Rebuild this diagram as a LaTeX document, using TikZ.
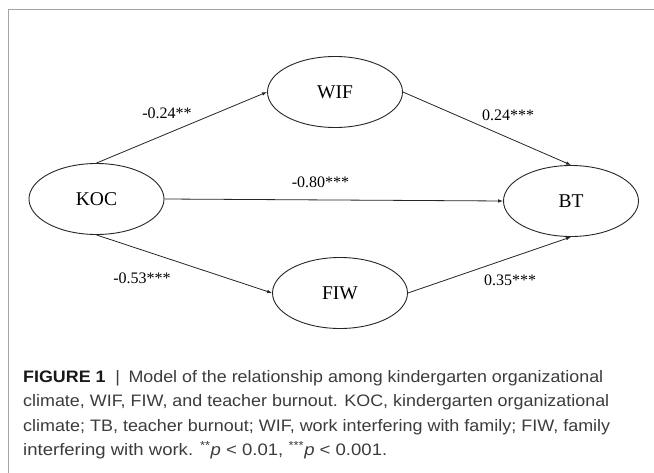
\documentclass[tikz,border=0pt]{standalone}
\usepackage{fontspec}
\usepackage{graphicx}
\setmainfont{Liberation Serif}
\newfontfamily\capfont{Liberation Sans}
\usetikzlibrary{arrows.meta,shapes.geometric}
\definecolor{capgray}{RGB}{60,60,60}
\definecolor{framegray}{RGB}{165,165,165}
\tikzset{
  latent/.style={draw=black!85, line width=0.9bp, ellipse, inner sep=0pt,
    minimum width=135bp, minimum height=71bp,
    font=\fontsize{19.5bp}{22bp}\selectfont},
  arrowpath/.style={draw=black!85, line width=0.8bp, -{Latex[length=5bp,width=3.6bp]}},
  coef/.style={inner sep=0pt, font=\fontsize{16bp}{18bp}\selectfont},
  capline/.style={anchor=base west, inner sep=0pt, text=capgray,
    font=\capfont\fontsize{16.6bp}{20bp}\selectfont},
}
\begin{document}
\begin{tikzpicture}[x=1bp,y=-1bp]
\useasboundingbox (0,0) rectangle (654,473);
\fill[white] (0,0) rectangle (654,473);
% frame (top and left edges)
\draw[framegray, line width=1.2bp] (654,9.5) -- (8.5,9.5) -- (8.5,473);
% constructs
\node[latent] (koc) at (96.5,199) {KOC};
\node[latent] (wif) at (335,92) {WIF};
\node[latent] (fiw) at (340,293) {FIW};
\node[latent] (bt) at (571,201) {BT};
% paths
\draw[arrowpath] (koc.north) -- (wif.west);
\draw[arrowpath] (wif.east) -- (bt.north);
\draw[arrowpath] (koc.east) -- (bt.west);
\draw[arrowpath] (koc.south) -- (fiw.west);
\draw[arrowpath] (fiw.east) -- (bt.south);
% coefficients
\node[coef] (c1) at (167,113) {-0.24**};
\node[coef] (c2) at (508,115) {0.24***};
\node[coef] (c3) at (320.5,182) {-0.80***};
\node[coef] (c4) at (142,278) {-0.53***};
\node[coef] (c5) at (510,280) {0.35***};
% caption
\node[capline] (cap1) at (23,382) {\resizebox{580bp}{\height}{{\bfseries\color{black!90}FIGURE 1}\hspace{9bp}|\hspace{8bp}Model of the relationship among kindergarten organizational}};
\node[capline] (cap2) at (23,406.5) {\resizebox{586bp}{\height}{climate, WIF, FIW, and teacher burnout. KOC, kindergarten organizational}};
\node[capline] (cap3) at (23,431) {\resizebox{587bp}{\height}{climate; TB, teacher burnout; WIF, work interfering with family; FIW, family}};
\node[capline] (cap4) at (23,455.5) {\resizebox{364bp}{\height}{interfering with work. \textsuperscript{**}\textit{p} {<} 0.01, \textsuperscript{***}\textit{p} {<} 0.001.}};
\end{tikzpicture}
\end{document}
